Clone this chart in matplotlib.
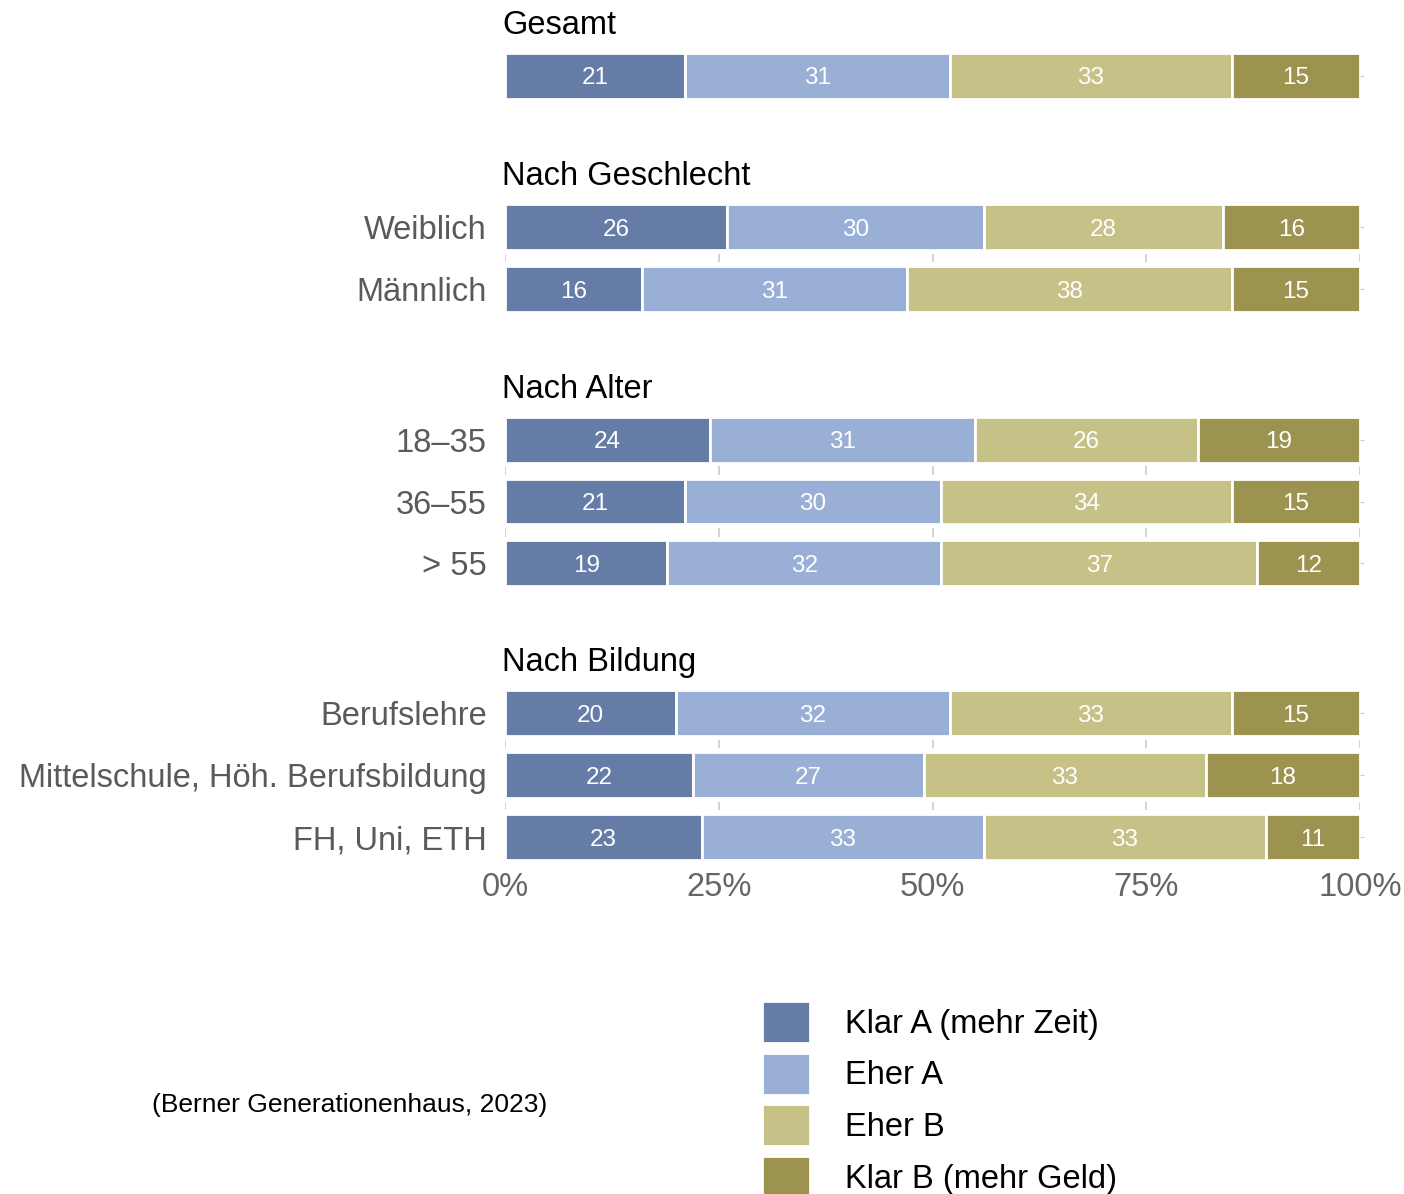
import matplotlib.pyplot as plt
import numpy as np

plt.rcParams['font.family'] = ['Liberation Sans', 'DejaVu Sans']

# Daten (Prozent)
kategorien = ['Klar A (mehr Zeit)', 'Eher A', 'Eher B', 'Klar B (mehr Geld)']
farben = ['#647ca6', '#9aafd6', '#c6c186', '#9b934f']

panel_titel = ['Gesamt', 'Nach Geschlecht', 'Nach Alter', 'Nach Bildung']
panel_gruppen = [
    [''],
    ['Weiblich', 'Männlich'],
    ['18–35', '36–55', '> 55'],
    ['Berufslehre', 'Mittelschule, Höh. Berufsbildung', 'FH, Uni, ETH'],
]
panel_werte = [
    [[21, 31, 33, 15]],
    [[26, 30, 28, 16],
     [16, 31, 38, 15]],
    [[24, 31, 26, 19],
     [21, 30, 34, 15],
     [19, 32, 37, 12]],
    [[20, 32, 33, 15],
     [22, 27, 33, 18],
     [23, 33, 33, 11]],
]

# Panel-Positionen in Pixeln (oben, unten)
W, H = 1404, 1194
panel_px = [(45, 107), (196, 320), (409, 594), (682, 868)]
x0, x1 = 505, 1360

fig = plt.figure(figsize=(W / 100, H / 100), dpi=100)

for p, (titel, gruppen, werte) in enumerate(zip(panel_titel, panel_gruppen, panel_werte)):
    top, bot = panel_px[p]
    ax = fig.add_axes([x0 / W, 1 - bot / H, (x1 - x0) / W, (bot - top) / H])
    werte = np.array(werte, dtype=float)
    anteile = werte / werte.sum(axis=1, keepdims=True) * 100
    y = np.arange(len(gruppen))
    links = np.zeros(len(gruppen))
    for k in range(len(kategorien)):
        ax.barh(y, anteile[:, k], left=links, height=0.74, color=farben[k],
                edgecolor='white', linewidth=2, label=kategorien[k])
        for i in range(len(gruppen)):
            ax.text(links[i] + anteile[i, k] / 2, y[i], f'{int(werte[i, k])}',
                    ha='center', va='center_baseline', color='white', fontsize=17.5)
        links += anteile[:, k]
    # kleine Tickmarken zwischen den Zeilen
    for i in range(len(gruppen) - 1):
        ax.vlines([0, 25, 50, 75, 100], i + 0.5 - 0.07, i + 0.5 + 0.07,
                  color='#cccccc', linewidth=1.2)
    ax.set_xlim(0, 100)
    ax.set_ylim(len(gruppen) - 0.5, -0.5)
    ax.set_yticks(y)
    ax.set_yticklabels(gruppen, fontsize=23.5, color='#5a5a5a')
    ax.tick_params(axis='y', left=False, right=True, length=3, color='#cccccc', pad=10)
    for s in ax.spines.values():
        s.set_visible(False)
    if p == len(panel_titel) - 1:
        ax.set_xticks([0, 25, 50, 75, 100])
        ax.set_xticklabels(['0%', '25%', '50%', '75%', '100%'], fontsize=23.5, color='#666666')
        ax.tick_params(axis='x', length=0, pad=3)
    else:
        ax.set_xticks([])
    ax.set_title(titel, loc='left', fontsize=23.5, color='black', pad=8, x=-0.003)
    if p == 0:
        handles, labels = ax.get_legend_handles_labels()

fig.legend(handles, labels, loc='upper left', bbox_to_anchor=(762 / W, 1 - 1001 / H),
           frameon=False, fontsize=23.5, borderpad=0, handlelength=1.47, handleheight=1.6,
           labelspacing=0.3, handletextpad=1.07, borderaxespad=0)

fig.text(152 / W, 1 - 1105 / H, '(Berner Generationenhaus, 2023)', fontsize=19,
         ha='left', va='center', color='black')

fig.savefig('out.png', dpi=100, facecolor='white')
